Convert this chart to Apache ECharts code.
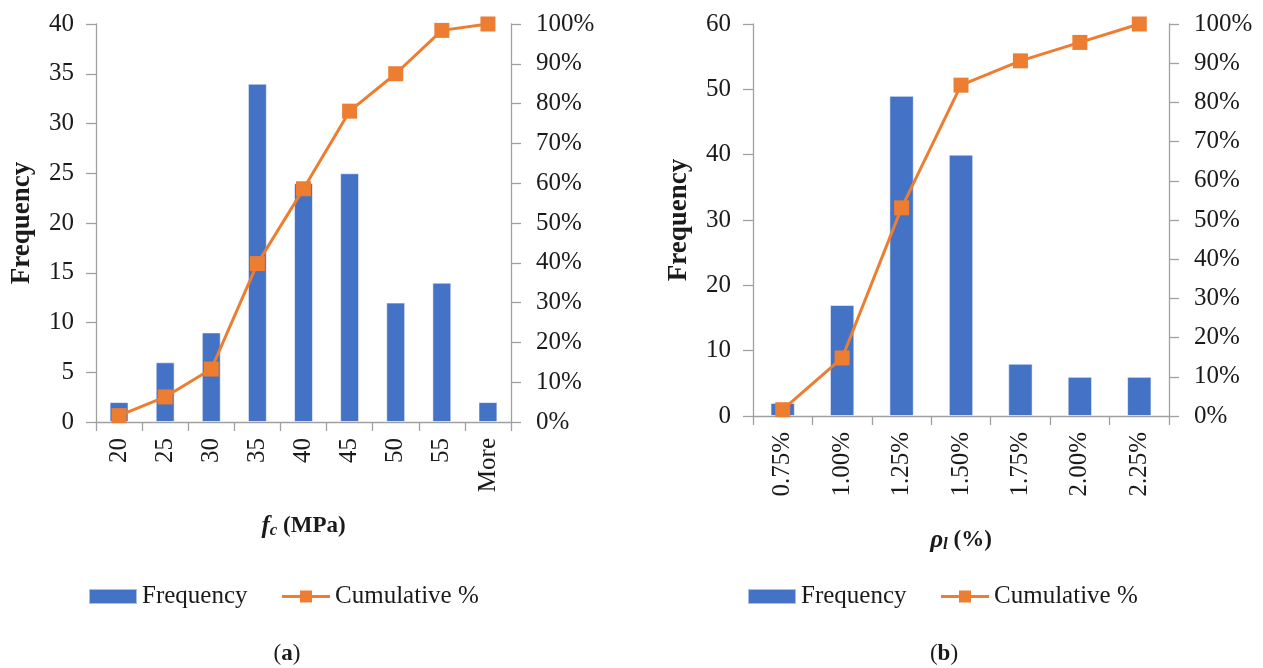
<!DOCTYPE html>
<html>
<head>
<meta charset="utf-8">
<script src="https://cdn.jsdelivr.net/npm/echarts@6/dist/echarts.min.js"></script>
<style>
html,body{margin:0;padding:0;background:#fff;}
#chart{width:1263px;height:668px;}
</style>
</head>
<body>
<div id="chart"></div>
<script>
// ---- Data ----
const catsA = ['20','25','30','35','40','45','50','55','More'];
const freqA = [2, 6, 9, 34, 24, 25, 12, 14, 2];
const cumA  = [1.6, 6.3, 13.3, 39.8, 58.6, 78.1, 87.5, 98.4, 100];

const catsB = ['0.75%','1.00%','1.25%','1.50%','1.75%','2.00%','2.25%'];
const freqB = [2, 17, 49, 40, 8, 6, 6];
const cumB  = [1.6, 14.8, 53.1, 84.4, 90.6, 95.3, 100];

const leftTicksA = {min:0, max:40, interval:5};
const leftTicksB = {min:0, max:60, interval:10};
const pctTicks = {min:0, max:100, interval:10};

// ---- Style ----
const FONT = '"Liberation Serif", "Times New Roman", serif';
const BLUE = '#4472C4';
const ORANGE = '#ED7D31';
const AXIS = '#A0A0A0';
const TXT = '#1a1a1a';
const LBL = 25;

function yLeft(gridIndex, ticks){
  return {
    type:'value', gridIndex, position:'left',
    min:ticks.min, max:ticks.max, interval:ticks.interval,
    name:'Frequency', nameLocation:'middle', nameGap:60, nameRotate:90,
    nameTextStyle:{fontFamily:FONT, fontSize:27, fontWeight:'bold', color:TXT},
    axisLine:{show:true, lineStyle:{color:AXIS, width:1.3}},
    axisTick:{show:true, length:10, lineStyle:{color:AXIS, width:1.3}},
    splitLine:{show:false},
    axisLabel:{fontFamily:FONT, fontSize:LBL, color:TXT, margin:22}
  };
}
function yRight(gridIndex){
  return {
    type:'value', gridIndex, position:'right',
    min:pctTicks.min, max:pctTicks.max, interval:pctTicks.interval,
    axisLine:{show:true, lineStyle:{color:AXIS, width:1.3}},
    axisTick:{show:true, length:10, lineStyle:{color:AXIS, width:1.3}},
    splitLine:{show:false},
    axisLabel:{fontFamily:FONT, fontSize:LBL, color:TXT, margin:25, formatter:'{value}%'}
  };
}
function xCat(gridIndex, cats, name, rich, gap){
  return {
    type:'category', gridIndex, data:cats,
    name:name, nameLocation:'middle', nameGap:gap,
    nameTextStyle:{fontFamily:FONT, fontSize:23, fontWeight:'bold', color:TXT, rich:rich},
    axisLine:{show:true, lineStyle:{color:AXIS, width:1.3}},
    axisTick:{show:true, length:9, lineStyle:{color:AXIS, width:1.3}},
    axisLabel:{fontFamily:FONT, fontSize:LBL, color:TXT, rotate:90, margin:16, interval:0}
  };
}
const richA = {
  i:{fontFamily:FONT, fontSize:25, fontStyle:'italic', color:TXT},
  s:{fontFamily:FONT, fontSize:17, fontStyle:'italic', color:TXT, verticalAlign:'bottom', padding:[8,0,0,0]},
  b:{fontFamily:FONT, fontSize:23, fontWeight:'bold', color:TXT}
};

const barStyle = {color:BLUE, borderColor:'rgba(255,255,255,0.55)', borderWidth:1};

function legendAt(left){
  return {left:left, top:584, padding:0, itemWidth:48, itemHeight:15, itemGap:33,
    lineStyle:{width:3},
    textStyle:{fontFamily:FONT, fontSize:25, color:TXT},
    data:[{name:'Frequency', icon:'rect'}, {name:'Cumulative %'}]};
}

const option = {
  backgroundColor:'#fff',
  animation:false,
  grid:[
    {left:96, top:24, width:415, height:398},
    {left:753, top:24, width:416, height:392}
  ],
  xAxis:[
    xCat(0, catsA, '{i|f}{s|c}{b| (MPa)}', richA, 92),
    xCat(1, catsB, '{i|ρ}{s|l}{b| (%)}', richA, 112)
  ],
  yAxis:[
    yLeft(0, leftTicksA), yRight(0),
    yLeft(1, leftTicksB), yRight(1)
  ],
  legend:[legendAt(88), legendAt(747)],
  graphic:[
    {type:'text', x:287, y:654, style:{text:'({b|a})', fill:TXT, font:'23px '+FONT, textAlign:'center', textVerticalAlign:'middle',
      rich:{b:{fontFamily:FONT, fontSize:23, fontWeight:'bold', fill:TXT}}}},
    {type:'text', x:944, y:654, style:{text:'({b|b})', fill:TXT, font:'23px '+FONT, textAlign:'center', textVerticalAlign:'middle',
      rich:{b:{fontFamily:FONT, fontSize:23, fontWeight:'bold', fill:TXT}}}}
  ],
  series:[
    {name:'Frequency', type:'bar', xAxisIndex:0, yAxisIndex:0, data:freqA, barWidth:'41%', itemStyle:barStyle},
    {name:'Cumulative %', type:'line', xAxisIndex:0, yAxisIndex:1, data:cumA, symbol:'rect', symbolSize:15,
      itemStyle:{color:ORANGE}, lineStyle:{color:ORANGE, width:3}},
    {name:'Frequency', type:'bar', xAxisIndex:1, yAxisIndex:2, data:freqB, barWidth:'41%', itemStyle:barStyle},
    {name:'Cumulative %', type:'line', xAxisIndex:1, yAxisIndex:3, data:cumB, symbol:'rect', symbolSize:15,
      itemStyle:{color:ORANGE}, lineStyle:{color:ORANGE, width:3}}
  ]
};
const chart = echarts.init(document.getElementById('chart'), null, {renderer:'canvas'});
chart.setOption(option);
</script>
</body>
</html>
